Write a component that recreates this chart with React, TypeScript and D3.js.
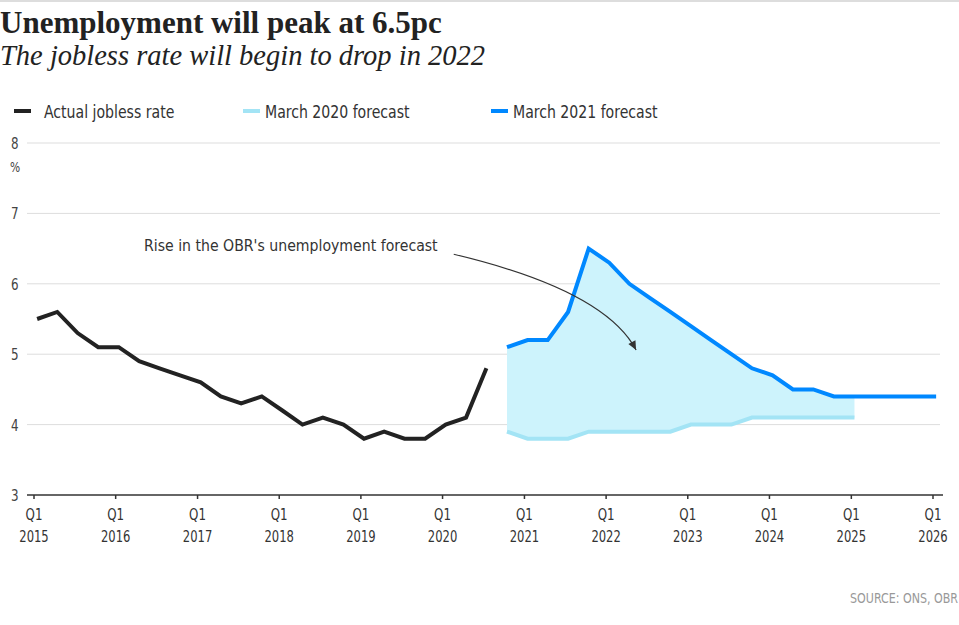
import React from 'react';
import * as d3 from 'd3';

// Quarterly data; first month of each quarter, plotted mid-month
const actualStart = [2015, 1];
const actualRate = [5.5, 5.6, 5.3, 5.1, 5.1, 4.9, 4.8, 4.7, 4.6, 4.4, 4.3, 4.4, 4.2, 4.0, 4.1, 4.0, 3.8, 3.9, 3.8, 3.8, 4.0, 4.1, 4.8];

const forecastStart = [2020, 4];
const march2020 = [3.9, 3.8, 3.8, 3.8, 3.9, 3.9, 3.9, 3.9, 3.9, 4.0, 4.0, 4.0, 4.1, 4.1, 4.1, 4.1, 4.1, 4.1];
const march2021 = [5.1, 5.2, 5.2, 5.6, 6.5, 6.3, 6.0, 5.8, 5.6, 5.4, 5.2, 5.0, 4.8, 4.7, 4.5, 4.5, 4.4, 4.4, 4.4, 4.4, 4.4, 4.4];

const yTicks = [3, 4, 5, 6, 7, 8];
const xTickYears = [2015, 2016, 2017, 2018, 2019, 2020, 2021, 2022, 2023, 2024, 2025, 2026];

const legendItems = [
  { label: 'Actual jobless rate', color: '#222222' },
  { label: 'March 2020 forecast', color: '#a3e4f5' },
  { label: 'March 2021 forecast', color: '#0088ff' },
];

const annotation = {
  text: "Rise in the OBR's unemployment forecast",
  textAt: [new Date(2019, 11, 10), 6.47],
  from: [new Date(2020, 1, 20), 6.42],
  ctrl: [new Date(2021, 11, 25), 5.91],
  to: [new Date(2022, 4, 15), 5.06],
};

const W = 959;
const H = 625;
const sans = "'DejaVu Sans Condensed', 'DejaVu Sans', sans-serif";
const serif = "'Liberation Serif', 'DejaVu Serif', serif";

const qDate = (start: number[], i: number) => {
  const q = start[1] - 1 + i;
  return new Date(start[0] + Math.floor(q / 4), (q % 4) * 3, 15);
};

// narrow sans text: squeeze DejaVu Condensed horizontally
const Narrow: React.FC<{ x: number; y: number; size: number; sx: number; fill?: string; anchor?: string; children: React.ReactNode }> =
  ({ x, y, size, sx, fill = '#333', anchor = 'start', children }) => (
    <g transform={`translate(${x},${y}) scale(${sx},1)`}>
      <text x={0} y={0} textAnchor={anchor} fontFamily={sans} fontSize={size} fill={fill}>{children}</text>
    </g>
  );

const App: React.FC = () => {
  const x = d3.scaleTime()
    .domain([new Date(2015, 0, 1), new Date(2026, 0, 1)])
    .range([34, 933]);
  const y = d3.scaleLinear().domain([3, 8]).range([495, 143]);

  const actual = actualRate.map((v, i) => ({ d: qDate(actualStart, i), v }));
  const f21 = march2021.map((v, i) => ({ d: qDate(forecastStart, i), v }));
  const f20 = march2020.map((v, i) => ({ d: qDate(forecastStart, i), v }));
  const band = march2020.map((v, i) => ({ d: qDate(forecastStart, i), lo: v, hi: march2021[i] }));

  const line = d3.line<{ d: Date; v: number }>().x(p => x(p.d)).y(p => y(p.v));
  const area = d3.area<{ d: Date; lo: number; hi: number }>()
    .x(p => x(p.d)).y0(p => y(p.lo)).y1(p => y(p.hi));

  const ax = (p: any[]) => [x(p[0]), y(p[1])];
  const [fx, fy] = ax(annotation.from);
  const [cx, cy] = ax(annotation.ctrl);
  const [tx, ty] = ax(annotation.to);
  const arrowPath = d3.path();
  arrowPath.moveTo(fx, fy);
  arrowPath.quadraticCurveTo(cx, cy, tx, ty);
  const ang = Math.atan2(ty - cy, tx - cx);
  const ah = 9, aw = 4;
  const head = [
    [tx, ty],
    [tx - ah * Math.cos(ang) + aw * Math.sin(ang), ty - ah * Math.sin(ang) - aw * Math.cos(ang)],
    [tx - ah * Math.cos(ang) - aw * Math.sin(ang), ty - ah * Math.sin(ang) + aw * Math.cos(ang)],
  ];
  const [labX, labY] = ax(annotation.textAt);

  const legendX = [14, 243, 491];

  return (
    <svg width={W} height={H} style={{ position: 'absolute', left: 0, top: 0, background: '#fff' }}>
      <rect x={0} y={0} width={W} height={2} fill="#dddddd" />
      <text x={0} y={33} fontFamily={serif} fontWeight="bold" fontSize={31} fill="#222">
        Unemployment will peak at 6.5pc
      </text>
      <text x={0} y={65} fontFamily={serif} fontStyle="italic" fontSize={28.5} fill="#222">
        The jobless rate will begin to drop in 2022
      </text>

      {legendItems.map((it, i) => (
        <g key={it.label} transform={`translate(${legendX[i]},111)`}>
          <line x1={0} x2={17} y1={0} y2={0} stroke={it.color} strokeWidth={4} />
          <Narrow x={i === 0 ? 30 : 22} y={7} size={18} sx={0.87}>{it.label}</Narrow>
        </g>
      ))}

      {yTicks.map(t => (
        <g key={t}>
          {t > 3 && <line x1={27} x2={940} y1={y(t)} y2={y(t)} stroke="#dddddd" strokeWidth={1} />}
          <Narrow x={11} y={y(t) + 6} size={16.5} sx={0.8} fill="#444">{t}</Narrow>
        </g>
      ))}
      <Narrow x={10} y={172} size={14} sx={0.85} fill="#444">%</Narrow>

      <line x1={27} x2={943} y1={y(3)} y2={y(3)} stroke="#333" strokeWidth={1.5} />
      {xTickYears.map(yr => {
        const px = x(new Date(yr, 0, 1));
        return (
          <g key={yr}>
            <line x1={px} x2={px} y1={y(3)} y2={y(3) + 4} stroke="#333" strokeWidth={1.5} />
            <Narrow x={px} y={520} size={16.5} sx={0.8} anchor="middle">Q1</Narrow>
            <Narrow x={px} y={542} size={16.5} sx={0.78} anchor="middle">{yr}</Narrow>
          </g>
        );
      })}

      <path d={area(band) || ''} fill="#cdf3fc" />
      <path d={line(f20) || ''} fill="none" stroke="#a3e4f5" strokeWidth={4} />
      <path d={line(f21) || ''} fill="none" stroke="#0088ff" strokeWidth={4} />
      <path d={line(actual) || ''} fill="none" stroke="#222222" strokeWidth={4} />

      <Narrow x={labX} y={labY} size={16.5} sx={0.95} anchor="end">{annotation.text}</Narrow>
      <path d={arrowPath.toString()} fill="none" stroke="#333" strokeWidth={1.2} />
      <path d={`M${head.map(p => p.join(',')).join('L')}Z`} fill="#333" />

      <Narrow x={958} y={603} size={14} sx={0.88} anchor="end" fill="#999">SOURCE: ONS, OBR</Narrow>
    </svg>
  );
};

export default App;
